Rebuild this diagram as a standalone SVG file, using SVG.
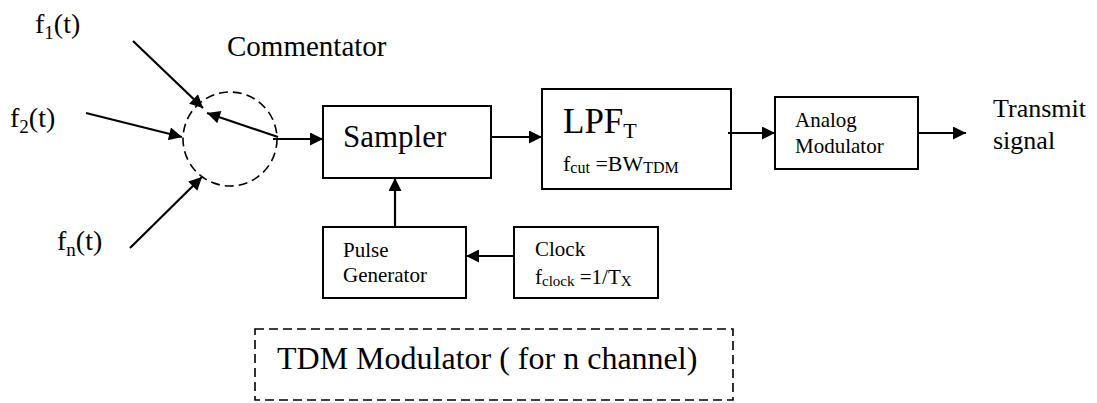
<svg xmlns="http://www.w3.org/2000/svg" width="1097" height="403" viewBox="0 0 1097 403">
<style>
text{font-family:'Liberation Serif','DejaVu Serif','Times New Roman',serif;fill:#000}
.box{fill:#fff;stroke:#000;stroke-width:2}
.ln{fill:none;stroke:#000;stroke-width:2.2;marker-end:url(#ah)}
.dash{fill:none;stroke:#000;stroke-width:1.6;stroke-dasharray:9 5}
</style>
<defs>
<marker id="ah" viewBox="0 0 10 10" refX="10" refY="5" markerWidth="16" markerHeight="13" markerUnits="userSpaceOnUse" orient="auto">
<path d="M0,0 L10,5 L0,10 z" fill="#000"/>
</marker>
</defs>
<g id="commentator">
<circle cx="230" cy="139" r="47" class="dash" stroke-dasharray="8 6"/>
<text x="227" y="56" font-size="29">Commentator</text>
</g>
<g id="inputs">
<text x="35" y="33" font-size="28">f<tspan font-size="19" dy="6">1</tspan><tspan dy="-6">(t)</tspan></text>
<text x="10" y="127" font-size="28">f<tspan font-size="19" dy="6">2</tspan><tspan dy="-6">(t)</tspan></text>
<text x="57" y="250" font-size="28">f<tspan font-size="19" dy="6">n</tspan><tspan dy="-6">(t)</tspan></text>
</g>
<g id="sampler">
<rect x="323" y="106" width="168" height="72" class="box"/>
<text x="343" y="147" font-size="31">Sampler</text>
</g>
<g id="lpf">
<rect x="542" y="89" width="189" height="100" class="box"/>
<text x="563" y="133" font-size="35">LPF<tspan font-size="22" dy="5">T</tspan></text>
<text x="563" y="171" font-size="22">f<tspan font-size="16" dy="2">cut</tspan><tspan dy="-2"> =BW</tspan><tspan font-size="16" dy="2">TDM</tspan></text>
</g>
<g id="analog-modulator">
<rect x="775" y="97" width="143" height="72" class="box"/>
<text x="795" y="127" font-size="21">Analog</text>
<text x="795" y="153" font-size="21">Modulator</text>
</g>
<g id="output-label">
<text x="993" y="117" font-size="26">Transmit</text>
<text x="993" y="149" font-size="26">signal</text>
</g>
<g id="pulse-generator">
<rect x="323" y="227" width="143" height="71" class="box"/>
<text x="343" y="257" font-size="21">Pulse</text>
<text x="343" y="282" font-size="21">Generator</text>
</g>
<g id="clock">
<rect x="514" y="227" width="144" height="71" class="box"/>
<text x="535" y="256" font-size="21">Clock</text>
<text x="535" y="284" font-size="21">f<tspan font-size="15" dy="2">clock</tspan><tspan dy="-2"> =1/T</tspan><tspan font-size="15" dy="2">X</tspan></text>
</g>
<g id="tdm-label">
<rect x="255" y="329" width="478" height="71" class="dash"/>
<text x="277" y="369" font-size="32">TDM Modulator ( for n channel)</text>
</g>
<g id="connectors">
<line x1="133" y1="41" x2="203" y2="108" class="ln"/>
<line x1="86" y1="113" x2="182" y2="137" class="ln"/>
<line x1="130" y1="248" x2="202" y2="177" class="ln"/>
<line x1="278" y1="137" x2="207" y2="113" class="ln"/>
<line x1="273" y1="139" x2="323" y2="139" class="ln"/>
<line x1="491" y1="137" x2="542" y2="137" class="ln"/>
<line x1="728" y1="133" x2="775" y2="133" class="ln"/>
<line x1="918" y1="133" x2="966" y2="133" class="ln"/>
<line x1="395" y1="227" x2="395" y2="178" class="ln"/>
<line x1="514" y1="256" x2="466" y2="256" class="ln"/>
</g>
</svg>
